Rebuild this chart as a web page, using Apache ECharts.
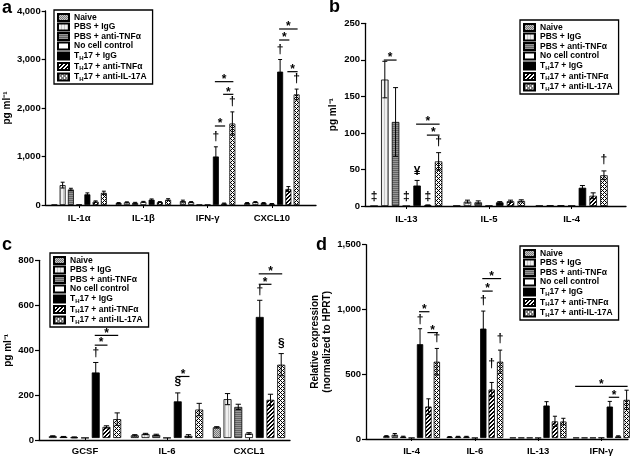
<!DOCTYPE html>
<html><head><meta charset="utf-8">
<script src="https://cdn.jsdelivr.net/npm/echarts@6/dist/echarts.min.js"></script>
<style>html,body{margin:0;padding:0;background:#fff}#c{width:633px;height:456px}</style>
</head><body><div id="c"></div><script>
const seriesNames = ['Naive','PBS + IgG','PBS + anti-TNFα','No cell control','TH17 + IgG','TH17 + anti-TNFα','TH17 + anti-IL-17A'];

// ---- Panel a ----
const catsA = ['IL-1α','IL-1β','IFN-γ','CXCL10'];
const ticksA = [0, 1000, 2000, 3000, 4000];
const meansA = [
  [5, 40, 80, 40],
  [410, 55, 60, 60],
  [320, 45, 5, 40],
  [10, 65, 5, 25],
  [220, 110, 1000, 2750],
  [70, 60, 30, 330],
  [250, 110, 1680, 2280]
];
const errsA = [
  [0, 10, 20, 10],
  [60, 10, 10, 10],
  [25, 10, 0, 10],
  [0, 10, 0, 5],
  [30, 15, 200, 250],
  [15, 10, 10, 50],
  [35, 20, 240, 110]
];
const marksA = [[2,4,'†',1409],[2,6,'†',2131],[3,4,'†',3196],[3,6,'†',2612]];
const sigsA = [[2,4,5,1629],[2,5,6,2282],[2,4,6,2543],[3,4,5,3402],[3,4,6,3629],[3,5,6,2749]];

// ---- Panel b ----
const catsB = ['IL-13','IL-5','IL-4'];
const ticksB = [0, 50, 100, 150, 200, 250];
const meansB = [
  [0, 0.5, 0.5],
  [173, 6, 1],
  [115, 5, 1],
  [0, 0.5, 0.5],
  [28, 5, 25],
  [1, 6.5, 14],
  [61, 7, 42]
];
const errsB = [
  [0, 0, 0],
  [25, 2, 0],
  [47, 2, 0],
  [0, 0, 0],
  [7, 1, 3],
  [0.5, 1.5, 4],
  [12, 1.5, 6]
];
const marksB = [[0,0,'‡',12.8],[0,3,'‡',12.8],[0,5,'‡',12.8],[0,4,'¥',47],[0,6,'†',88],[2,6,'†',63]];
const sigsB = [[0,1,2,199.7],[0,4,6,112],[0,5,6,97]];

// ---- Panel c ----
const catsC = ['GCSF','IL-6','CXCL1'];
const ticksC = [0, 200, 400, 600, 800];
const meansC = [
  [8, 12, 48],
  [5, 18, 175],
  [3, 14, 140],
  [1, 1, 20],
  [295, 165, 545],
  [50, 10, 172],
  [85, 128, 330]
];
const errsC = [
  [2, 3, 3],
  [2, 3, 25],
  [2, 3, 12],
  [0, 0, 4],
  [45, 38, 75],
  [5, 5, 25],
  [28, 28, 50]
];
const marksC = [[0,4,'†',384],[1,4,'§',255],[2,4,'†',662],[2,6,'§',425]];
const sigsC = [[0,4,5,418],[0,4,6,462],[1,4,5,277],[2,4,5,692],[2,4,6,739]];

// ---- Panel d ----
const catsD = ['IL-4','IL-6','IL-13','IFN-γ'];
const ticksD = [0, 500, 1000, 1500];
const meansD = [
  [15, 8, 2, 2],
  [25, 10, 2, 2],
  [10, 10, 2, 2],
  [1, 1, 1, 3],
  [728, 849, 252, 244],
  [244, 376, 129, 12],
  [592, 592, 128, 296]
];
const errsD = [
  [3, 3, 0, 0],
  [10, 3, 0, 0],
  [4, 3, 0, 0],
  [0, 0, 0, 0],
  [120, 136, 30, 40],
  [60, 55, 40, 5],
  [103, 90, 25, 75]
];
const marksD = [[0,4,'†',921],[0,6,'†',780],[1,4,'†',1063],[1,5,'†',574],[1,6,'†',767]];
const sigsD = [[0,4,5,980],[0,5,6,818],[1,4,5,1140],[1,4,6,1237],[3,0,6,401],[3,4,5,316]];

// ---- styling / layout ----
const FONT = '"Liberation Sans", Arial, sans-serif';
function tile(w, h, fn) {
  const c = document.createElement('canvas'); c.width = w; c.height = h;
  const g = c.getContext('2d'); const img = g.createImageData(w, h);
  for (let y = 0; y < h; y++) for (let x = 0; x < w; x++) {
    const v = fn(x, y); const i = (y * w + x) * 4;
    img.data[i] = img.data[i+1] = img.data[i+2] = v; img.data[i+3] = 255;
  }
  g.putImageData(img, 0, 0); return {image: c, repeat: 'repeat'};
}
const fills = [
  tile(4, 4, (x, y) => ((x + y) % 2 === 0 ? 120 : 200)),
  tile(3, 1, (x) => (x === 0 ? 200 : 240)),
  tile(1, 2, (x, y) => (y === 0 ? 100 : 150)),
  '#ffffff',
  '#000000',
  tile(4, 4, (x, y) => (((x + y) % 4) < 2 ? 0 : 255)),
  tile(4, 4, (x, y) => (((x + y) % 4 === 0) || ((x - y + 8) % 4 === 0) ? 0 : 255))
];

const panels = [
  {cats: catsA, ticks: ticksA, means: meansA, errs: errsA, marks: marksA, sigs: sigsA,
   fx0: 42, fx1: 316, y0: 205, y1: 11, bx0: 47, bx1: 304, wf: 0.093, gap: 0.38,
   name: 'pg ml⁻¹', nameGap: 25, lg: [54, 10], comma: true},
  {cats: catsB, ticks: ticksB, means: meansB, errs: errsB, marks: marksB, sigs: sigsB,
   fx0: 365, fx1: 626, y0: 206, y1: 23.3, bx0: 365, bx1: 613, wf: 0.091, gap: 0.43,
   name: 'pg ml⁻¹', nameGap: 26, lg: [520, 20], comma: false},
  {cats: catsC, ticks: ticksC, means: meansC, errs: errsC, marks: marksC, sigs: sigsC,
   fx0: 39, fx1: 290, y0: 440.3, y1: 260.3, bx0: 44, bx1: 290, wf: 0.097, gap: 0.35,
   name: 'pg ml⁻¹', nameGap: 18, lg: [50, 253], comma: false},
  {cats: catsD, ticks: ticksD, means: meansD, errs: errsD, marks: marksD, sigs: sigsD,
   fx0: 366, fx1: 628, y0: 439, y1: 244.7, bx0: 380, bx1: 642, wf: 0.10, gap: 0.33,
   name: 'Relative expression\n(normalized to HPRT)', nameGap: 21, lg: [520, 246], comma: true}
];

const fmtNum = (v, comma) => comma ? String(v).replace(/\B(?=(\d{3})+(?!\d))/g, ',') : String(v);
const grid = [], xAxis = [], yAxis = [], series = [], legend = [];

panels.forEach((p, k) => {
  const fi = 2 * k, bi = 2 * k + 1;
  const ymin = p.ticks[0], ymax = p.ticks[p.ticks.length - 1], step = p.ticks[1] - p.ticks[0];
  grid.push({left: p.fx0, top: p.y1, width: p.fx1 - p.fx0, height: p.y0 - p.y1});
  grid.push({left: p.bx0, top: p.y1, width: p.bx1 - p.bx0, height: p.y0 - p.y1});
  xAxis.push({gridIndex: fi, type: 'value', min: 0, max: 1,
    axisLine: {show: true, onZero: false, lineStyle: {color: '#000', width: 1.3}},
    axisTick: {show: false}, axisLabel: {show: false}, splitLine: {show: false}});
  xAxis.push({gridIndex: bi, type: 'category', data: p.cats,
    axisLine: {show: false}, axisTick: {show: true, alignWithLabel: true, length: 3, lineStyle: {color: '#000', width: 1}},
    axisLabel: {margin: 8, color: '#000', fontFamily: FONT, fontWeight: 'bold', fontSize: 9.5}, splitLine: {show: false}});
  yAxis.push({gridIndex: fi, type: 'value', min: ymin, max: ymax, interval: step,
    axisLine: {show: true, lineStyle: {color: '#000', width: 1.3}},
    axisTick: {show: true, length: 4, lineStyle: {color: '#000', width: 1.2}},
    axisLabel: {margin: 5, color: '#000', fontFamily: FONT, fontWeight: 'bold', fontSize: 9.5, formatter: v => fmtNum(v, p.comma)},
    splitLine: {show: false},
    name: p.name, nameLocation: 'middle', nameGap: p.nameGap,
    nameTextStyle: {color: '#000', fontFamily: FONT, fontWeight: 'bold', fontSize: 10, lineHeight: 12}});
  yAxis.push({gridIndex: bi, type: 'value', min: ymin, max: ymax, show: false});

  seriesNames.forEach((nm, s) => {
    series.push({type: 'bar', name: nm, xAxisIndex: bi, yAxisIndex: bi, data: p.means[s],
      barWidth: (p.wf * 100) + '%', barGap: (p.gap * 100) + '%',
      itemStyle: {color: fills[s], borderColor: '#000', borderWidth: 0.8}, z: 2, silent: true});
  });

  const geo = (api, c, s, v) => {
    const bw = api.size([1, 0])[0], w = bw * p.wf, st = w * (1 + p.gap);
    const pt = api.coord([c, v]);
    return {x: pt[0] + (s - 3) * st, y: pt[1], w: w};
  };

  const eb = [];
  p.means.forEach((row, s) => row.forEach((m, c) => { if (p.errs[s][c] > 0) eb.push([c, m, p.errs[s][c], s]); }));
  series.push({type: 'custom', xAxisIndex: bi, yAxisIndex: bi, data: eb, encode: {x: 0, y: 1}, z: 5, silent: true,
    renderItem: (params, api) => {
      const c = api.value(0), m = api.value(1), e = api.value(2), s = api.value(3);
      const t = geo(api, c, s, m + e), b = geo(api, c, s, Math.max(m - e, 0));
      const cap = t.w * 0.33, ls = {stroke: '#000', lineWidth: 1};
      return {type: 'group', children: [
        {type: 'line', shape: {x1: t.x, y1: t.y, x2: t.x, y2: b.y}, style: ls},
        {type: 'line', shape: {x1: t.x - cap, y1: t.y, x2: t.x + cap, y2: t.y}, style: ls},
        {type: 'line', shape: {x1: t.x - cap, y1: b.y, x2: t.x + cap, y2: b.y}, style: ls}
      ]};
    }});

  series.push({type: 'custom', xAxisIndex: bi, yAxisIndex: bi, data: p.marks.map(d => [d[0], d[3]]),
    encode: {x: 0, y: 1}, z: 6, silent: true,
    renderItem: (params, api) => {
      const d = p.marks[params.dataIndex]; const g = geo(api, d[0], d[1], d[3]);
      return {type: 'text', x: g.x, y: g.y, style: {text: d[2], fill: '#000', font: 'bold 12px ' + FONT, textAlign: 'center', textVerticalAlign: 'middle'}};
    }});

  series.push({type: 'custom', xAxisIndex: bi, yAxisIndex: bi, data: p.sigs.map(d => [d[0], d[3]]),
    encode: {x: 0, y: 1}, z: 6, silent: true,
    renderItem: (params, api) => {
      const d = p.sigs[params.dataIndex];
      const g0 = geo(api, d[0], d[1], d[3]), g1 = geo(api, d[0], d[2], d[3]);
      return {type: 'group', children: [
        {type: 'line', shape: {x1: g0.x - 1, y1: g0.y, x2: g1.x + 1, y2: g0.y}, style: {stroke: '#000', lineWidth: 1.2}},
        {type: 'text', x: (g0.x + g1.x) / 2, y: g0.y + 4, style: {text: '*', fill: '#000', font: 'bold 12px ' + FONT, textAlign: 'center', textVerticalAlign: 'bottom'}}
      ]};
    }});

  legend.push({left: p.lg[0], top: p.lg[1], orient: 'vertical', data: seriesNames, icon: 'rect',
    itemWidth: 11, itemHeight: 7, itemGap: 0.5, selectedMode: false,
    borderColor: '#000', borderWidth: 1.3, borderRadius: 0, padding: [3, 6, 2, 3], backgroundColor: '#fff',
    formatter: n => n.indexOf('TH17') === 0 ? '{t|T}{s|H}{t|' + n.slice(2) + '}' : '{t|' + n + '}',
    textStyle: {color: '#000', fontFamily: FONT, fontWeight: 'bold', fontSize: 8.5,
      rich: {t: {fontFamily: FONT, fontWeight: 'bold', fontSize: 8.5, lineHeight: 10},
             s: {fontFamily: FONT, fontWeight: 'bold', fontSize: 6, lineHeight: 10, padding: [4, 0, 0, 0]}}}});
});

const chart = echarts.init(document.getElementById('c'), null, {renderer: 'canvas'});
chart.setOption({
  animation: false, backgroundColor: '#fff',
  grid, xAxis, yAxis, series, legend,
  graphic: [
    {type: 'text', left: 2, top: -1, style: {text: 'a', font: 'bold 18px ' + FONT, fill: '#000'}},
    {type: 'text', left: 329, top: -2, style: {text: 'b', font: 'bold 18px ' + FONT, fill: '#000'}},
    {type: 'text', left: 2, top: 236, style: {text: 'c', font: 'bold 18px ' + FONT, fill: '#000'}},
    {type: 'text', left: 316, top: 236, style: {text: 'd', font: 'bold 18px ' + FONT, fill: '#000'}}
  ]
});
</script></body></html>
